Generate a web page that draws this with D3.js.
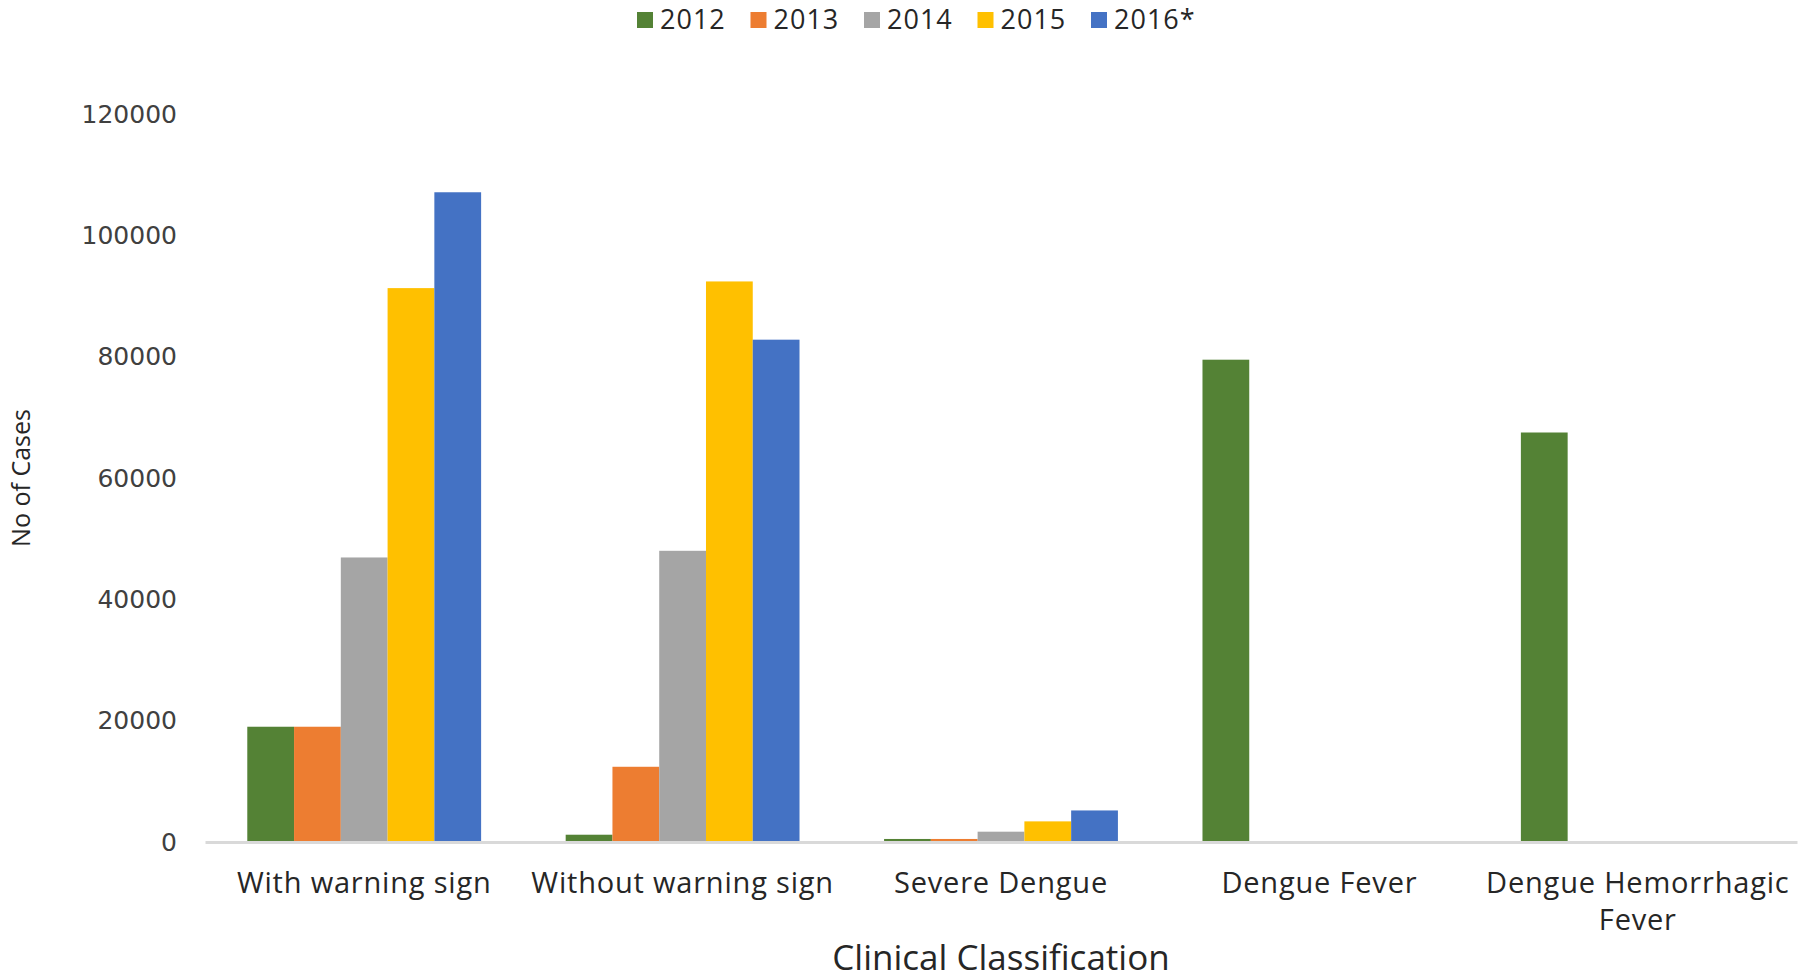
<!DOCTYPE html>
<html>
<head>
<meta charset="utf-8">
<script src="https://cdn.jsdelivr.net/npm/d3@7"></script>
<style>
  body { margin: 0; background: #fff; }
  text { fill: #262626; }
</style>
</head>
<body>
<div id="chart"></div>
<script>
// clinical classification of dengue cases by year
const categories = ["With warning sign", "Without warning sign", "Severe Dengue", "Dengue Fever", "Dengue Hemorrhagic Fever"];
const years = ["2012", "2013", "2014", "2015", "2016*"];
const cases2012 = [19000, 1200, 500, 79500, 67500];
const cases2013 = [19000, 12400, 500, 0, 0];
const cases2014 = [46900, 48000, 1700, 0, 0];
const cases2015 = [91300, 92400, 3400, 0, 0];
const cases2016 = [107100, 82800, 5200, 0, 0];
const yTicks = [0, 20000, 40000, 60000, 80000, 100000, 120000];
const colors = ["#548235", "#ED7D31", "#A5A5A5", "#FFC000", "#4472C4"];

const seriesValues = [cases2012, cases2013, cases2014, cases2015, cases2016];

const width = 1806, height = 979;
const margin = { top: 114, right: 9, bottom: 137, left: 205 };

const svg = d3.select("#chart").append("svg")
    .attr("width", width)
    .attr("height", height);

let x0 = d3.scaleBand()
    .domain(categories)
    .range([margin.left, width - margin.right])
    .paddingInner(0.2656)
    .paddingOuter(0.1328);

let x1 = d3.scaleBand()
    .domain(years)
    .range([0, x0.bandwidth()]);

let y = d3.scaleLinear()
    .domain([0, 120000])
    .range([height - margin.bottom, margin.top]);

// y tick labels, no axis line
const yAxis = d3.axisLeft(y).tickValues(yTicks).tickFormat(d3.format("d")).tickSize(0).tickPadding(0);
const yg = svg.append("g")
    .attr("transform", `translate(${margin.left - 28},0)`)
    .call(yAxis);
yg.select(".domain").remove();
yg.selectAll("text")
    .style("font-family", "DejaVu Sans")
    .style("font-size", "25px")
    .style("fill", "#404040");

// bars
const groups = svg.append("g").selectAll("g")
    .data(categories)
    .join("g")
    .attr("transform", d => `translate(${x0(d)},0)`);

groups.selectAll("rect")
    .data((c, ci) => years.map((yr, si) => ({ year: yr, value: seriesValues[si][ci], color: colors[si] })))
    .join("rect")
    .filter(d => d.value > 0)
    .attr("x", d => x1(d.year))
    .attr("width", x1.bandwidth())
    .attr("y", d => y(d.value))
    .attr("height", d => y(0) - y(d.value))
    .attr("fill", d => d.color);

// x axis line + labels
const xAxis = d3.axisBottom(x0).tickSize(0).tickPadding(0);
const xg = svg.append("g")
    .attr("transform", `translate(0,${y(0)})`)
    .call(xAxis);
xg.select(".domain")
    .attr("stroke", "#d9d9d9")
    .attr("stroke-width", 3);
xg.selectAll("text").remove();

xg.selectAll(".tick").each(function(d){
    let tick = d3.select(this);
    let lines = d === "Dengue Hemorrhagic Fever" ? ["Dengue Hemorrhagic", "Fever"] : [d];
    lines.forEach((ln, i) => {
        tick.append("text")
            .attr("text-anchor", "middle")
            .attr("y", 51 + i * 37)
            .style("font-family", "Open Sans")
            .style("font-size", "29px")
            .style("letter-spacing", "0.8px")
            .style("fill", "#262626")
            .text(ln);
    });
});

// axis titles
svg.append("text")
    .attr("x", (margin.left + width - margin.right) / 2)
    .attr("y", 970)
    .attr("text-anchor", "middle")
    .style("font-family", "Open Sans")
    .style("font-size", "35px")
    .text("Clinical Classification");

svg.append("text")
    .attr("transform", "translate(30,478) rotate(-90)")
    .attr("text-anchor", "middle")
    .style("font-family", "Open Sans")
    .style("font-size", "25px")
    .text("No of Cases");

// legend
const legend = svg.append("g").selectAll("g")
    .data(years)
    .join("g")
    .attr("transform", (d, i) => `translate(${637 + i * 113.5},12)`);

legend.append("rect")
    .attr("width", 16)
    .attr("height", 16)
    .attr("fill", (d, i) => colors[i]);

legend.append("text")
    .attr("x", 23)
    .attr("y", 17)
    .style("font-family", "Open Sans")
    .style("font-size", "27px")
    .style("letter-spacing", "1px")
    .text(d => d);
</script>
</body>
</html>
